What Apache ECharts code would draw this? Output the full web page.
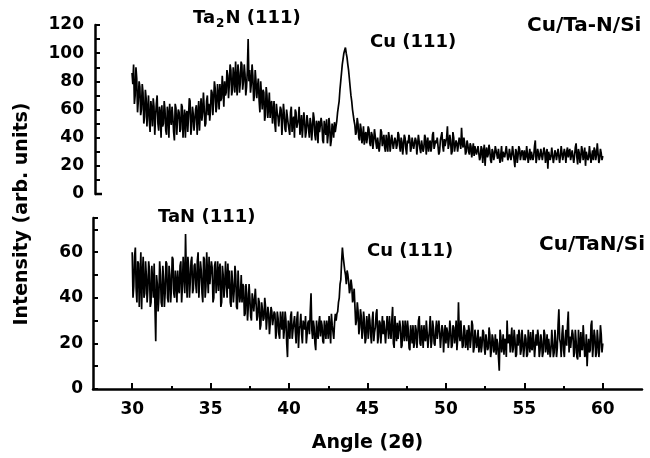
<!DOCTYPE html>
<html>
<head>
<meta charset="utf-8">
<script src="https://cdn.jsdelivr.net/npm/echarts@6/dist/echarts.min.js"></script>
<style>
  html, body { margin: 0; padding: 0; background: #fff; }
  #chart { width: 650px; height: 458px; }
</style>
</head>
<body>
<div id="chart"></div>
<script>
// scan runs 30.0 .. 60.0 deg; main readings every 0.1 deg,
// "mid" readings sit half a step later (30.05, 30.15, ...)
const angleStart = 30;
const angleStep = 0.1;

// Cu/Ta-N/Si (upper panel)
const upperScan = [
  86, 92, 70, 82, 66, 76, 60, 72, 55, 68,
  60, 52, 66, 48, 62, 55, 70, 45, 58, 63,
  50, 60, 42, 57, 64, 49, 55, 38, 61, 53,
  58, 46, 62, 52, 40, 59, 55, 66, 48, 57,
  52, 63, 56, 45, 68, 58, 61, 50, 70, 64,
  59, 72, 66, 75, 62, 70, 78, 68, 74, 80,
  72, 84, 78, 88, 74, 82, 94, 70, 86, 79,
  92, 80, 85, 76, 110, 88, 78, 84, 70, 80,
  76, 66, 80, 60, 72, 56, 70, 62, 54, 66,
  58, 50, 64, 55, 47, 60, 52, 57, 44, 55,
  50, 58, 44, 55, 60, 47, 53, 42, 56, 49,
  52, 44, 57, 40, 50, 46, 54, 38, 49, 52,
  45, 50, 36, 47, 53, 42, 48, 38, 46, 51,
  48, 58, 66, 80, 92, 100, 104, 97, 88, 76,
  66, 56, 49, 44, 50, 38, 46, 40, 35, 44,
  40, 46, 34, 42, 38, 45, 32, 41, 36, 44,
  38, 33, 42, 30, 40, 36, 43, 31, 38, 35,
  42, 30, 37, 34, 40, 28, 36, 39, 33, 41,
  31, 38, 35, 42, 29, 37, 33, 40, 36, 30,
  38, 34, 44, 31, 36, 40, 30, 37, 34, 39,
  33, 48, 35, 38, 30, 40, 34, 36, 31, 37,
  47, 33, 36, 30, 35, 28, 34, 31, 27, 33,
  29, 35, 26, 32, 30, 20, 33, 28, 31, 22,
  30, 27, 34, 25, 31, 28, 23, 30, 27, 33,
  26, 31, 28, 35, 19, 30, 27, 32, 25, 29,
  31, 26, 33, 28, 24, 30, 27, 38, 26, 29,
  27, 32, 25, 30, 28, 18, 31, 27, 34, 26,
  29, 25, 31, 27, 33, 24, 28, 30, 26, 32,
  25, 30, 27, 36, 21, 29, 26, 31, 28, 20,
  30, 26, 33, 27, 24, 31, 28, 35, 25, 29,
  27
];
const upperScanMid = [
  78, 64, 90, 58, 80, 56, 78, 50, 74, 48,
  70, 44, 60, 68, 42, 64, 50, 62, 40, 48,
  66, 45, 62, 40, 54, 62, 44, 64, 42, 60,
  44, 64, 40, 60, 56, 44, 68, 42, 62, 45,
  60, 42, 66, 58, 52, 72, 48, 66, 56, 52,
  74, 56, 80, 58, 78, 60, 66, 84, 62, 70,
  88, 68, 92, 70, 90, 72, 80, 92, 72, 94,
  74, 92, 70, 88, 80, 72, 92, 66, 88, 68,
  82, 58, 70, 74, 52, 76, 54, 72, 64, 50,
  66, 44, 58, 48, 62, 42, 64, 46, 60, 50,
  42, 62, 52, 40, 58, 50, 62, 48, 40, 58,
  40, 56, 46, 54, 38, 58, 42, 52, 36, 44,
  54, 38, 52, 42, 36, 54, 34, 50, 40, 44,
  52, 62, 74, 86, 96, 102, 100, 92, 82, 70,
  60, 52, 42, 54, 40, 50, 36, 48, 42, 36,
  48, 36, 44, 32, 46, 36, 40, 30, 46, 34,
  42, 30, 36, 44, 30, 42, 32, 40, 32, 44,
  34, 40, 28, 42, 32, 38, 42, 30, 40, 32,
  40, 28, 42, 32, 38, 30, 42, 28, 40, 36,
  30, 42, 32, 38, 40, 28, 38, 44, 30, 34,
  40, 32, 42, 28, 44, 30, 38, 30, 40, 32,
  36, 40, 28, 38, 30, 36, 26, 36, 34, 28,
  34, 24, 34, 22, 35, 30, 26, 35, 24, 32,
  24, 34, 28, 32, 22, 34, 30, 26, 34, 24,
  32, 24, 34, 24, 32, 22, 34, 24, 31, 24,
  24, 34, 22, 32, 30, 24, 34, 22, 32, 24,
  32, 24, 33, 22, 32, 30, 24, 33, 22, 31,
  24, 32, 22, 34, 24, 32, 22, 33, 30, 24,
  31, 22, 33, 26, 32, 22, 34, 24, 33, 30,
  24, 34, 22, 31, 33, 24, 36, 22, 32, 24
];

// Cu/TaN/Si (lower panel)
const lowerScan = [
  60, 45, 62, 38, 55, 48, 35, 58, 42, 50,
  44, 52, 38, 47, 55, 21, 46, 40, 50, 36,
  48, 42, 55, 38, 50, 44, 57, 40, 47, 52,
  42, 56, 45, 50, 68, 40, 53, 47, 58, 44,
  55, 42, 60, 48, 52, 38, 57, 45, 50, 58,
  46, 53, 40, 56, 48, 43, 55, 38, 50, 45,
  48, 55, 52, 36, 46, 43, 50, 35, 44, 41,
  38, 45, 33, 42, 36, 40, 30, 39, 34, 37,
  32, 38, 28, 35, 31, 36, 26, 33, 29, 34,
  28, 33, 25, 31, 22, 29, 34, 26, 30, 14,
  27, 32, 22, 29, 25, 31, 18, 28, 24, 30,
  26, 20, 29, 24, 42, 22, 27, 17, 25, 29,
  23, 28, 20, 26, 30, 22, 27, 33, 25, 29,
  30, 34, 40, 48, 62, 55, 50, 52, 47, 44,
  45, 40, 36, 30, 34, 27, 32, 25, 30, 22,
  28, 33, 24, 30, 21, 27, 35, 23, 29, 26,
  24, 30, 20, 27, 32, 22, 36, 18, 25, 29,
  22, 27, 19, 25, 30, 21, 26, 17, 24, 28,
  20, 26, 23, 32, 19, 24, 28, 21, 25, 18,
  32, 21, 27, 19, 30, 22, 25, 18, 26, 23,
  20, 25, 22, 26, 19, 27, 23, 17, 38, 21,
  24, 19, 26, 21, 17, 25, 22, 28, 18, 23,
  20, 16, 23, 19, 25, 15, 21, 18, 24, 17,
  22, 18, 15, 20, 8, 23, 19, 15, 21, 30,
  20, 16, 27, 18, 22, 15, 19, 24, 17, 21,
  18, 22, 15, 20, 25, 17, 21, 14, 19, 23,
  17, 21, 16, 24, 19, 15, 22, 18, 20, 16,
  21, 18, 35, 20, 24, 17, 22, 19, 34, 23,
  18, 24, 16, 21, 13, 19, 25, 17, 22, 15,
  10, 22, 17, 30, 19, 23, 16, 21, 18, 24,
  20
];
const lowerScanMid = [
  40, 58, 44, 56, 36, 60, 50, 40, 56, 38,
  56, 36, 54, 40, 36, 50, 34, 56, 38, 54,
  36, 56, 40, 54, 38, 58, 42, 52, 38, 44,
  54, 38, 58, 42, 50, 58, 40, 56, 42, 54,
  46, 56, 40, 56, 42, 58, 40, 60, 42, 46,
  56, 38, 54, 42, 56, 52, 36, 54, 40, 56,
  40, 44, 38, 52, 38, 54, 36, 52, 38, 50,
  46, 32, 46, 30, 46, 32, 42, 34, 44, 30,
  40, 26, 38, 30, 40, 26, 36, 24, 36, 28,
  34, 22, 34, 24, 34, 26, 22, 34, 20, 30,
  22, 34, 26, 32, 20, 34, 26, 33, 20, 28,
  32, 24, 30, 34, 26, 30, 20, 30, 22, 32,
  30, 21, 30, 22, 27, 32, 20, 28, 22, 33,
  33, 38, 46, 56, 58, 52, 46, 50, 42, 48,
  38, 44, 28, 38, 24, 35, 22, 34, 20, 32,
  22, 30, 20, 34, 25, 33, 20, 30, 20, 32,
  30, 20, 32, 22, 26, 30, 20, 32, 21, 22,
  30, 18, 30, 21, 26, 30, 18, 28, 20, 18,
  28, 18, 30, 20, 28, 18, 22, 30, 18, 26,
  18, 30, 20, 26, 22, 30, 18, 28, 16, 28,
  27, 18, 30, 18, 28, 20, 30, 22, 24, 30,
  18, 28, 18, 26, 28, 18, 30, 16, 26, 18,
  26, 20, 16, 26, 18, 24, 17, 27, 14, 24,
  16, 24, 22, 14, 26, 16, 24, 22, 14, 20,
  24, 22, 16, 26, 14, 24, 26, 15, 26, 14,
  24, 14, 26, 16, 18, 26, 14, 24, 26, 14,
  24, 14, 26, 16, 24, 22, 14, 26, 14, 26,
  14, 28, 22, 14, 28, 14, 26, 28, 16, 18,
  26, 14, 26, 14, 26, 14, 18, 28, 14, 24,
  18, 16, 28, 14, 26, 14, 26, 14, 28, 16
];

const xTicks = [30, 35, 40, 45, 50, 55, 60];
const xMinorTicks = [32.5, 37.5, 42.5, 47.5, 52.5, 57.5];
const upperLabels = ['Cu/Ta-N/Si', 'Cu (111)'];
const lowerLabels = ['Cu/TaN/Si', 'TaN (111)', 'Cu (111)'];

const font = '"DejaVu Sans", Verdana, sans-serif';
const black = '#000';

// weave main and mid readings into one [angle, intensity] list
function toPoints(main, mid) {
  const pts = [];
  main.forEach((v, i) => {
    const a = angleStart + i * angleStep;
    pts.push([+a.toFixed(2), v]);
    if (i < mid.length) pts.push([+(a + angleStep / 2).toFixed(2), mid[i]]);
  });
  return pts;
}

function labelText(text, x, y, size) {
  return {
    type: 'text', x: x, y: y,
    style: {text: text, font: 'bold ' + size + 'px ' + font, fill: black, verticalAlign: 'middle'}
  };
}

const tickFont = {color: black, fontFamily: font, fontWeight: 'bold', fontSize: 17};

const yAxisCommon = {
  type: 'value',
  interval: 10,
  axisLine: {show: true, lineStyle: {color: black, width: 2.5}},
  axisTick: {show: true, inside: true, length: 5, lineStyle: {color: black, width: 2}},
  splitLine: {show: false}
};

const chart = echarts.init(document.getElementById('chart'));

chart.setOption({
  animation: false,
  backgroundColor: '#fff',
  grid: [
    {left: 95, right: 8, top: 25, bottom: 264},
    {left: 93, right: 8, top: 218, bottom: 69}
  ],
  xAxis: [
    {gridIndex: 0, type: 'value', min: 27.64, max: 62.5, show: false},
    {
      gridIndex: 1, type: 'value', min: 27.5, max: 62.5, position: 'bottom',
      name: 'Angle (2θ)', nameLocation: 'middle', nameGap: 45,
      nameTextStyle: {color: black, fontFamily: font, fontWeight: 'bold', fontSize: 19},
      axisLine: {lineStyle: {color: black, width: 2.5}},
      axisTick: {inside: true, length: 6, customValues: xTicks, lineStyle: {color: black, width: 2}},
      axisLabel: Object.assign({customValues: xTicks, margin: 12}, tickFont),
      splitLine: {show: false}
    },
    {
      gridIndex: 1, type: 'value', min: 27.5, max: 62.5, position: 'bottom',
      axisLine: {show: false},
      axisTick: {inside: true, length: 3, customValues: xMinorTicks, lineStyle: {color: black, width: 2}},
      axisLabel: {show: false},
      splitLine: {show: false}
    }
  ],
  yAxis: [
    Object.assign({}, yAxisCommon, {
      gridIndex: 0, min: 0, max: 120,
      axisLabel: Object.assign({formatter: v => (v % 20 === 0 ? v : ''), margin: 11}, tickFont)
    }),
    Object.assign({}, yAxisCommon, {
      gridIndex: 1, min: 0, max: 75,
      axisLabel: Object.assign({formatter: v => (v % 20 === 0 ? v : ''), margin: 10}, tickFont)
    })
  ],
  series: [
    {
      type: 'line', xAxisIndex: 0, yAxisIndex: 0, data: toPoints(upperScan, upperScanMid),
      showSymbol: false, symbol: 'none', sampling: null,
      lineStyle: {color: black, width: 1.7}
    },
    {
      type: 'line', xAxisIndex: 1, yAxisIndex: 1, data: toPoints(lowerScan, lowerScanMid),
      showSymbol: false, symbol: 'none', sampling: null,
      lineStyle: {color: black, width: 1.7}
    }
  ],
  graphic: [
    {
      type: 'text', x: 22, y: 214, rotation: Math.PI / 2,
      style: {text: 'Intensity (arb. units)', font: 'bold 19px ' + font, fill: black,
        align: 'center', verticalAlign: 'middle'}
    },
    // little stub left at the foot of the upper axis
    {type: 'line', shape: {x1: 95, y1: 194, x2: 102, y2: 194}, style: {stroke: black, lineWidth: 2.5}},
    {
      type: 'text', x: 193, y: 18,
      style: {
        text: '{m|Ta}{s|2}{m|N (111)}',
        verticalAlign: 'middle',
        rich: {
          m: {font: 'bold 18px ' + font, fill: black, lineHeight: 22},
          s: {font: 'bold 12px ' + font, fill: black, padding: [12, 1, 0, 1]}
        }
      }
    },
    labelText(upperLabels[0], 527, 26, 20),
    labelText(upperLabels[1], 370, 42, 18),
    labelText(lowerLabels[0], 539, 245, 20),
    labelText(lowerLabels[1], 158, 217, 18),
    labelText(lowerLabels[2], 367, 251, 18)
  ]
});
</script>
</body>
</html>
